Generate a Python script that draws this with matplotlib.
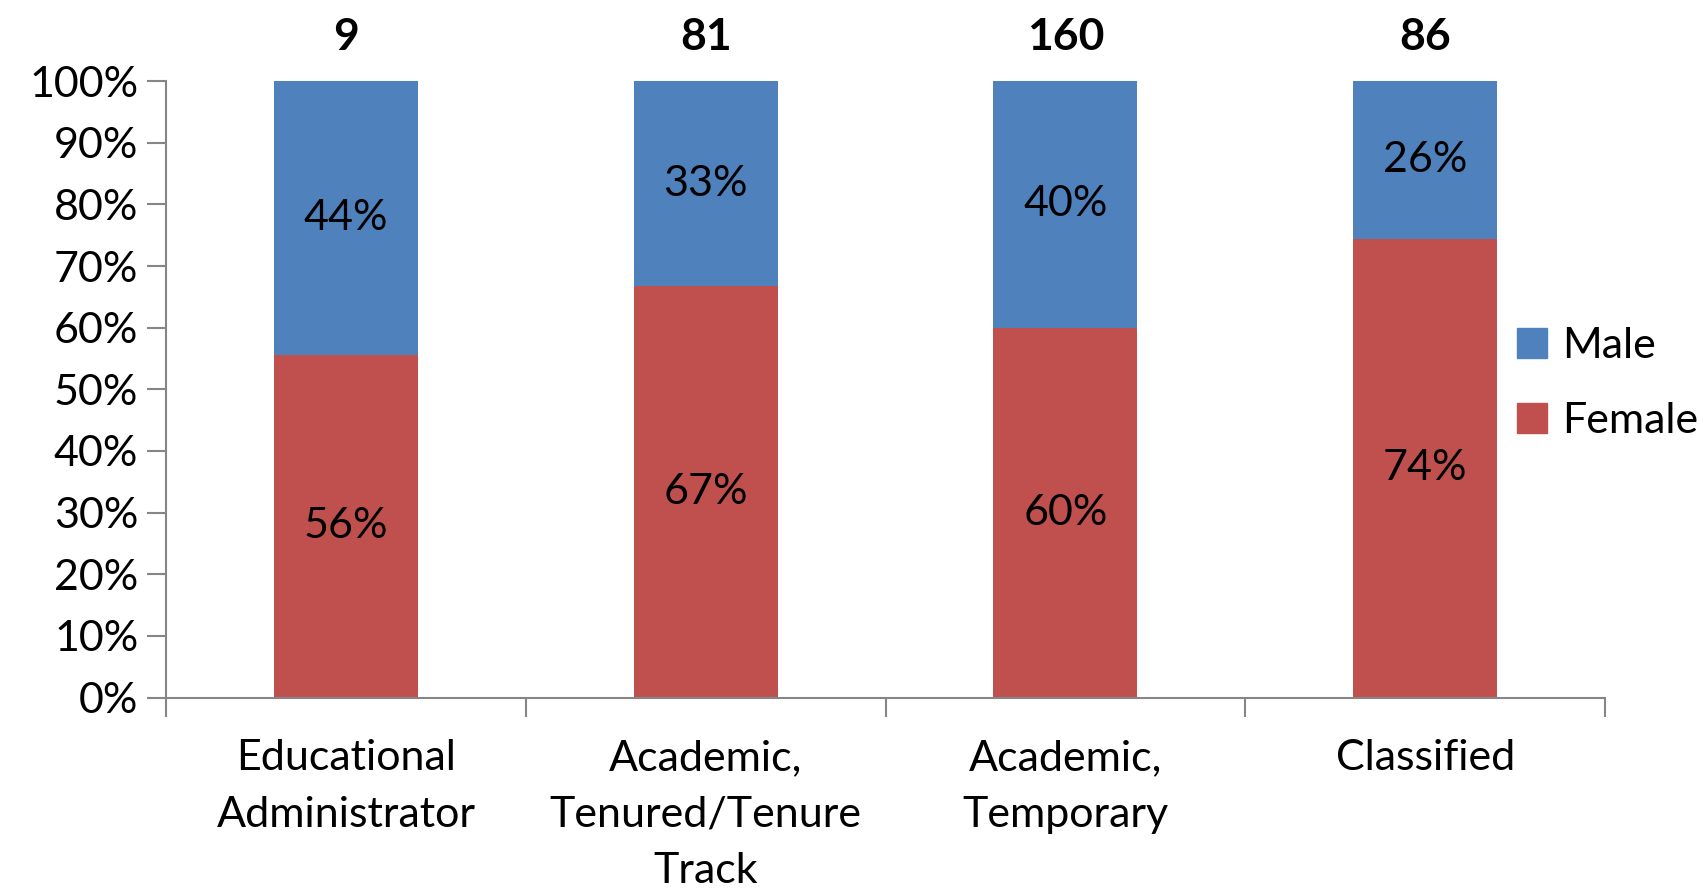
import numpy as np
import matplotlib
matplotlib.use("Agg")
import matplotlib.pyplot as plt
from matplotlib.patches import Patch

# data
categories = ["Educational\nAdministrator", "Academic,\nTenured/Tenure\nTrack",
              "Academic,\nTemporary", "Classified"]
counts = [9, 81, 160, 86]
female = [55.6, 66.7, 60.0, 74.4]
male = [44.4, 33.3, 40.0, 25.6]
female_labels = ["56%", "67%", "60%", "74%"]
male_labels = ["44%", "33%", "40%", "26%"]

blue = "#4F81BD"
red = "#C0504D"
grey = "#868686"
fs = 31

plt.rcParams["font.family"] = ["Lato", "DejaVu Sans"]

fig = plt.figure(figsize=(17.03, 8.92), dpi=100)
ax = fig.add_axes([0.0975, 0.218, 0.845, 0.691])

x = np.arange(len(categories))
ax.bar(x, female, width=0.4, color=red, zorder=2)
ax.bar(x, male, width=0.4, bottom=female, color=blue, zorder=2)

for i in range(len(categories)):
    ax.text(x[i], female[i] / 2, female_labels[i], ha="center", va="center", fontsize=fs)
    ax.text(x[i], female[i] + male[i] / 2, male_labels[i], ha="center", va="center", fontsize=fs)
    ax.text(x[i], 104, str(counts[i]), ha="center", va="bottom", fontsize=fs + 1,
            fontweight="bold")

ax.set_xlim(-0.5, len(categories) - 0.5)
ax.set_ylim(0, 100)
ax.set_yticks(np.arange(0, 101, 10))
ax.set_yticklabels([f"{v}%" for v in range(0, 101, 10)], fontsize=fs)

# boundaries get the visible ticks, centres carry the labels
ax.set_xticks(np.arange(-0.5, len(categories), 1.0))
ax.set_xticklabels([])
ax.set_xticks(x, minor=True)
ax.set_xticklabels(categories, minor=True, fontsize=fs, linespacing=1.6)
ax.tick_params(axis="x", which="minor", length=0, pad=30)
ax.tick_params(axis="x", which="major", length=14, width=1.5, color=grey)
ax.tick_params(axis="y", length=14, width=1.5, color=grey, pad=6)

for side in ["top", "right"]:
    ax.spines[side].set_visible(False)
for side in ["left", "bottom"]:
    ax.spines[side].set_color(grey)
    ax.spines[side].set_linewidth(1.5)

handles = [Patch(color=blue, label="Male"), Patch(color=red, label="Female")]
fig.legend(handles=handles, loc="center left", bbox_to_anchor=(0.868, 0.57),
           frameon=False, fontsize=fs, handlelength=0.7, handleheight=0.7,
           handletextpad=0.35, labelspacing=0.85)

fig.savefig("out.png", dpi=100)
